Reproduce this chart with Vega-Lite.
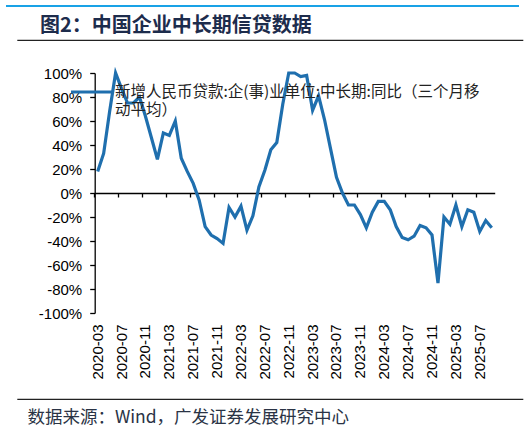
{
  "$schema": "https://vega.github.io/schema/vega-lite/v6.json",
  "padding": {"left": 5, "top": 5, "right": 5, "bottom": 5},
  "background": "white",
  "spacing": 8,
  "title": {"text": "数据来源：Wind，广发证券发展研究中心", "orient": "bottom", "anchor": "start", "frame": "bounds", "dx": 22, "offset": 9, "fontSize": 17.5, "font": "Noto Sans CJK SC", "fontWeight": "normal", "color": "#2a3345"},
  "datasets": {
    "loans": [
      {"month": "2020-03", "value": 18}, {"month": "2020-04", "value": 33}, {"month": "2020-05", "value": 68},
      {"month": "2020-06", "value": 100}, {"month": "2020-07", "value": 87}, {"month": "2020-08", "value": 75},
      {"month": "2020-09", "value": 75}, {"month": "2020-10", "value": 80}, {"month": "2020-11", "value": 64},
      {"month": "2020-12", "value": 46}, {"month": "2021-01", "value": 28}, {"month": "2021-02", "value": 50},
      {"month": "2021-03", "value": 48}, {"month": "2021-04", "value": 60}, {"month": "2021-05", "value": 29},
      {"month": "2021-06", "value": 18}, {"month": "2021-07", "value": 8}, {"month": "2021-08", "value": -6},
      {"month": "2021-09", "value": -28}, {"month": "2021-10", "value": -35}, {"month": "2021-11", "value": -38},
      {"month": "2021-12", "value": -42}, {"month": "2022-01", "value": -12}, {"month": "2022-02", "value": -20},
      {"month": "2022-03", "value": -11}, {"month": "2022-04", "value": -31}, {"month": "2022-05", "value": -19},
      {"month": "2022-06", "value": 5}, {"month": "2022-07", "value": 19}, {"month": "2022-08", "value": 36},
      {"month": "2022-09", "value": 42}, {"month": "2022-10", "value": 74}, {"month": "2022-11", "value": 110},
      {"month": "2022-12", "value": 115}, {"month": "2023-01", "value": 97}, {"month": "2023-02", "value": 98},
      {"month": "2023-03", "value": 69}, {"month": "2023-04", "value": 81}, {"month": "2023-05", "value": 61},
      {"month": "2023-06", "value": 37}, {"month": "2023-07", "value": 13}, {"month": "2023-08", "value": 0},
      {"month": "2023-09", "value": -10}, {"month": "2023-10", "value": -10}, {"month": "2023-11", "value": -18},
      {"month": "2023-12", "value": -29}, {"month": "2024-01", "value": -16}, {"month": "2024-02", "value": -7},
      {"month": "2024-03", "value": -7}, {"month": "2024-04", "value": -14}, {"month": "2024-05", "value": -28},
      {"month": "2024-06", "value": -37}, {"month": "2024-07", "value": -39}, {"month": "2024-08", "value": -36},
      {"month": "2024-09", "value": -27}, {"month": "2024-10", "value": -29}, {"month": "2024-11", "value": -35},
      {"month": "2024-12", "value": -75}, {"month": "2025-01", "value": -20}, {"month": "2025-02", "value": -26},
      {"month": "2025-03", "value": -10}, {"month": "2025-04", "value": -28}, {"month": "2025-05", "value": -14},
      {"month": "2025-06", "value": -16}, {"month": "2025-07", "value": -32}, {"month": "2025-08", "value": -23},
      {"month": "2025-09", "value": -29}
    ]
  },
  "vconcat": [
    {
      "width": 513,
      "height": 2,
      "data": {"values": [{"band": "header"}]},
      "mark": {"type": "rect", "color": "#19a2e6"},
      "view": {"stroke": null}
    },
    {
      "width": 517,
      "height": 359,
      "data": {"name": "loans"},
      "title": {"text": "图2：中国企业中长期信贷数据", "anchor": "start", "frame": "group", "dx": 34, "offset": 4, "fontSize": 20, "font": "Noto Sans CJK SC", "fontWeight": "bold", "color": "#1d2c4c"},
      "view": {"stroke": "#222222", "strokeWidth": 1.2, "strokeDash": [0, 11, 506, 359, 506, 370], "fill": null},
      "mark": {"type": "line", "strokeWidth": 3.2, "clip": false},
      "encoding": {
        "x": {
          "field": "month", "type": "ordinal", "sort": null,
          "scale": {"type": "band", "range": [88.7, 488.7], "paddingInner": 0, "paddingOuter": 0},
          "axis": {
            "orient": "bottom", "offset": -206,
            "values": ["2020-03","2020-07","2020-11","2021-03","2021-07","2021-11","2022-03","2022-07","2022-11","2023-03","2023-07","2023-11","2024-03","2024-07","2024-11","2025-03","2025-07"],
            "bandPosition": 0, "labelAngle": -90, "labelPadding": 127,
            "tickSize": 4, "tickColor": "#000000", "tickWidth": 1.3,
            "domainColor": "#000000", "domainWidth": 1.5,
            "labelFont": "Liberation Sans", "labelFontSize": 15, "labelColor": "#000000",
            "title": null, "grid": false, "labelOverlap": false
          }
        },
        "y": {
          "field": "value", "type": "quantitative",
          "scale": {"domain": [-100, 100], "range": [273, 33], "clamp": true, "nice": false, "zero": false},
          "axis": {
            "offset": -88.7,
            "values": [-100, -80, -60, -40, -20, 0, 20, 40, 60, 80, 100],
            "labelExpr": "datum.value + '%'",
            "tickSize": 5, "tickColor": "#000000", "tickWidth": 1.3,
            "domainColor": "#000000", "domainWidth": 1.3,
            "labelPadding": 8, "labelFont": "Liberation Sans", "labelFontSize": 15, "labelColor": "#000000",
            "title": null, "grid": false, "labelOverlap": false
          }
        },
        "color": {
          "datum": "新增人民币贷款:企(事)业单位:中长期:同比（三个月移动平均）",
          "type": "nominal",
          "scale": {"range": ["#1f6fae"]},
          "legend": {
            "orient": "none", "legendX": 63, "legendY": 64, "title": null,
            "symbolType": "stroke", "symbolSize": 1764, "symbolStrokeWidth": 3.2,
            "labelFont": "Noto Sans CJK SC", "labelFontSize": 15.5, "labelColor": "#222222",
            "labelLimit": 1000, "labelOffset": 0, "padding": 0,
            "labelExpr": "['新增人民币贷款:企(事)业单位:中长期:同比（三个月移', '动平均）']"
          }
        }
      }
    }
  ]
}
